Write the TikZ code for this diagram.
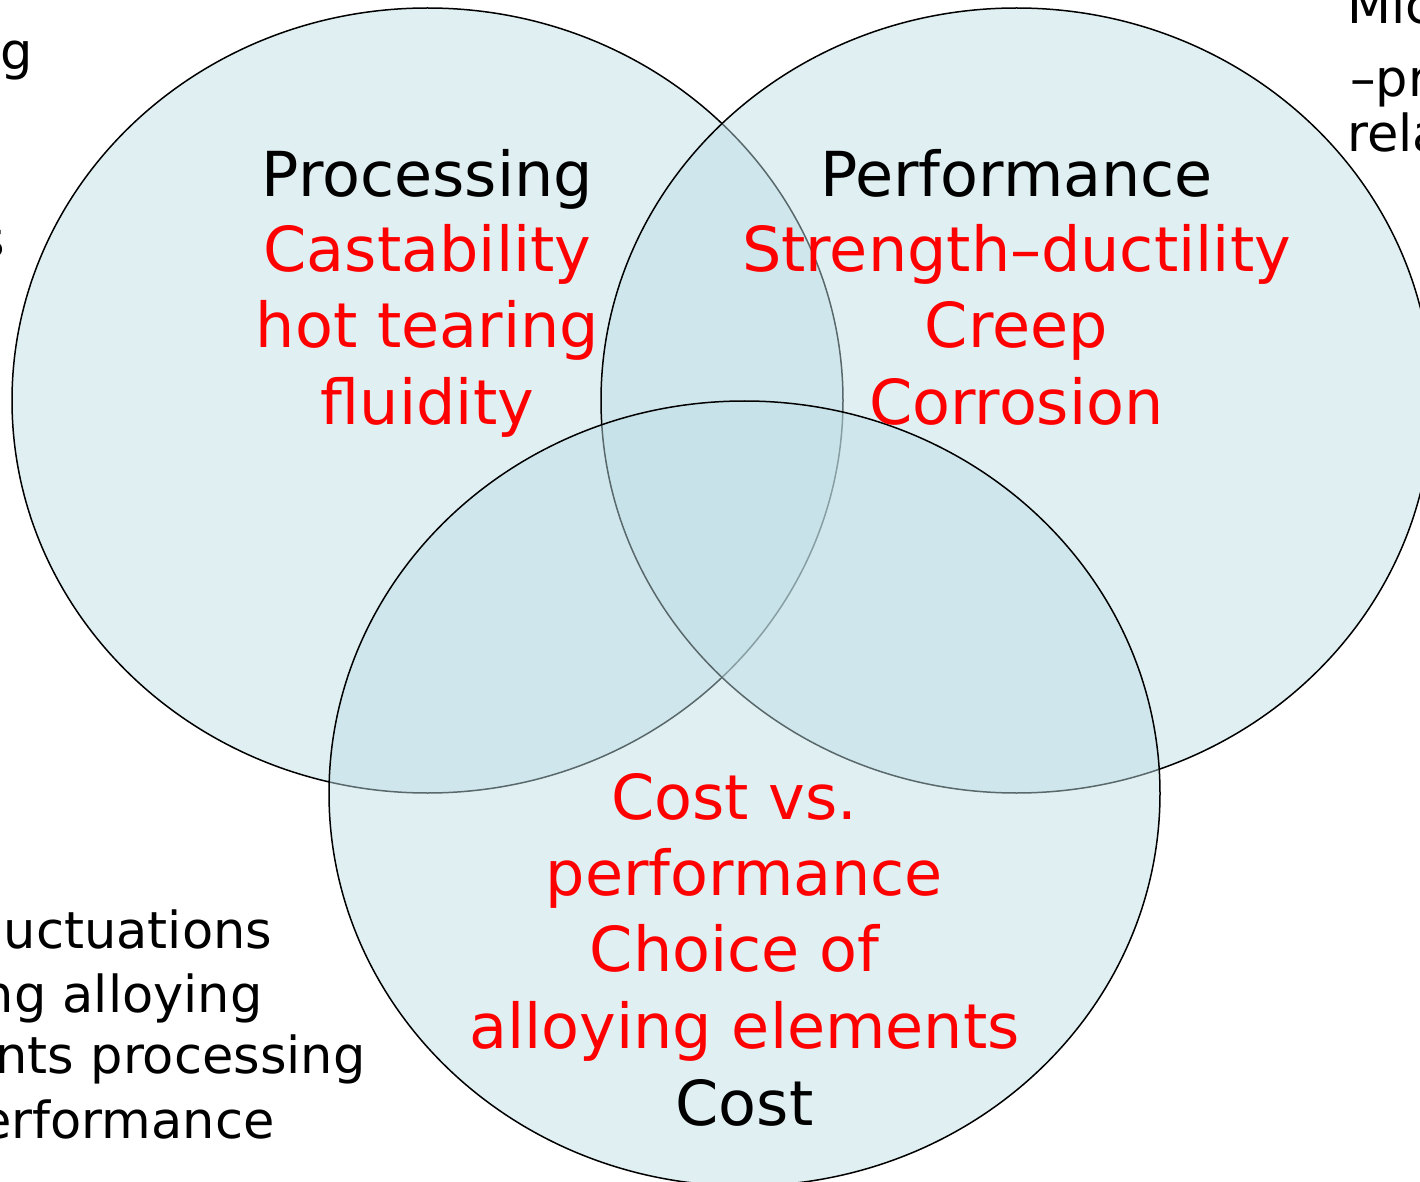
\documentclass[tikz,border=0pt]{standalone}
\usepackage{fontspec}
\setmainfont{DejaVu Sans}
\definecolor{vennblue}{RGB}{189,221,228}
\tikzset{
  venn/.style={draw=black, line width=0.75pt, fill=vennblue, fill opacity=0.47},
  head/.style={text=black, font=\fontsize{31}{38.15}\selectfont, align=center, inner sep=0pt, anchor=base},
  item/.style={head, text=red},
  aside/.style={text=black, font=\fontsize{25.5}{32}\selectfont, inner sep=0pt},
}
\begin{document}
\begin{tikzpicture}[x=0.5pt,y=0.5pt,yscale=-1]
\clip (0,0) rectangle (1420,1182);

%Shape: Ellipse (processing)
\draw [venn] (427.5,400.5) ellipse [x radius=415.5, y radius=392.5];
%Shape: Ellipse (performance)
\draw [venn] (1016.5,400.5) ellipse [x radius=415.5, y radius=392.5];
%Shape: Ellipse (cost)
\draw [venn] (744.5,793.5) ellipse [x radius=415.5, y radius=392.5];

% Text Node (multi-line nodes sit on their last baseline)
\node [head] (proc) at (427.5,197) {Processing};
\node [item] (procitems) at (427.5,424) {Castability\\hot tearing\\fluidity};
% Text Node
\node [head] (perf) at (1016.5,197) {Performance};
\node [item] (perfitems) at (1016.5,424) {Strength–ductility\\Creep\\Corrosion};
% Text Node
\node [item] (costitems) at (744.5,1048) {Cost vs.\kern.32em\\performance\\Choice of\kern.32em\\alloying elements};
\node [head] (cost) at (744.5,1125) {Cost};

% Text Node (cut off at the edges)
\node [aside, anchor=base east] (lefta) at (33,70) {g};
\node [aside, anchor=base east] (leftb) at (5.5,258) {s};
\node [aside, anchor=base west] (righta) at (1347,24) {Mic};
\node [aside, anchor=base west] (rightb) at (1350,97) {–pr};
\node [aside, anchor=base west] (rightc) at (1347,152) {rela};
\node [aside, anchor=base east] (lowa) at (272.5,948) {uctuations};
\node [aside, anchor=base east] (lowb) at (263,1012) {ng alloying};
\node [aside, anchor=base east] (lowc) at (366,1073) {nts processing};
\node [aside, anchor=base east] (lowd) at (275,1138) {erformance};

\end{tikzpicture}
\end{document}
